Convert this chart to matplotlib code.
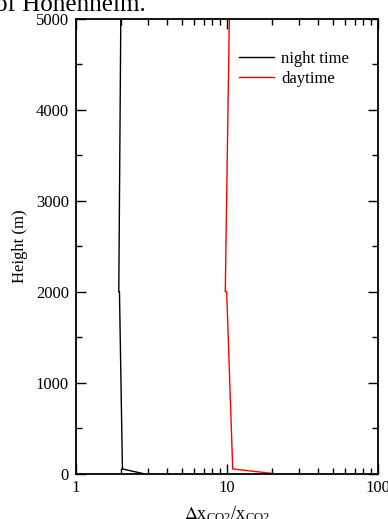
import numpy as np
import matplotlib.pyplot as plt
from matplotlib.ticker import LogLocator, MultipleLocator, NullFormatter

plt.rcParams['font.family'] = ['Liberation Serif', 'DejaVu Serif']
plt.rcParams['mathtext.fontset'] = 'stix'

# profiles
height = [5000, 2000, 1999, 50, 0]
night_time = [1.98, 1.92, 1.94, 2.03, 2.77]
daytime = [10.36, 9.74, 9.95, 10.91, 20.1]

fig = plt.figure(figsize=(3.88, 5.19), dpi=100)
ax = fig.add_axes([76 / 388, 1 - 473.5 / 519, 302 / 388, 454.5 / 519])

ax.plot(night_time, height, color='black', lw=1, label='night time')
ax.plot(daytime, height, color='red', lw=1, label='daytime')

ax.set_xscale('log')
ax.set_xlim(1, 100)
ax.set_ylim(0, 5000)
ax.xaxis.set_minor_locator(LogLocator(base=10, subs=np.arange(2, 10)))
ax.xaxis.set_minor_formatter(NullFormatter())
ax.set_xticks([1, 10, 100])
ax.set_xticklabels(['1', '10', '100'])
ax.yaxis.set_major_locator(MultipleLocator(1000))
ax.yaxis.set_minor_locator(MultipleLocator(500))

ax.tick_params(which='both', direction='in', top=True, right=True, labelsize=12, width=1)
ax.tick_params(which='major', length=7, pad=5)
ax.tick_params(which='minor', length=4)
for s in ax.spines.values():
    s.set_linewidth(1.3)

ax.set_ylabel('Height (m)', fontsize=12, labelpad=6)
ax.set_xlabel(r'$\Delta$x$_{\mathregular{CO2}}$/x$_{\mathregular{CO2}}$', fontsize=13, labelpad=6)

ax.legend(loc='upper left', bbox_to_anchor=(0.49, 0.962), frameon=False, fontsize=12,
          handlelength=2.1, handletextpad=0.45, labelspacing=0.2)

# caption line of the page above, clipped by the figure edge
fig.text(-0.012, 1 - 11 / 519, 'of Hohenheim.', fontsize=18, va='baseline', ha='left')

fig.savefig('out.png', dpi=100)
